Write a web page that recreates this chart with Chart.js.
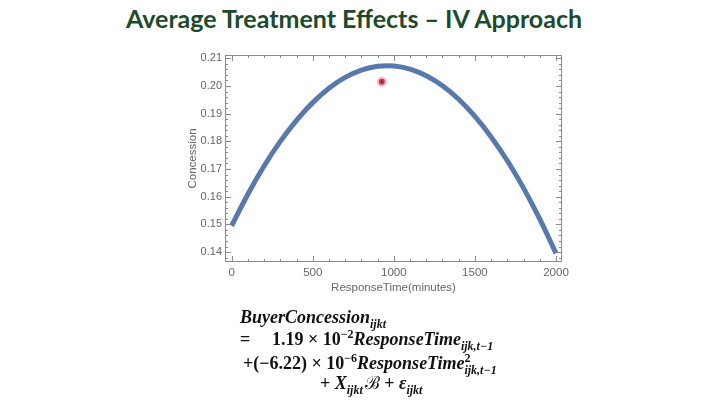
<!DOCTYPE html>
<html>
<head>
<meta charset="utf-8">
<script src="https://cdn.jsdelivr.net/npm/chart.js@4.4.1/dist/chart.umd.min.js"></script>
<style>
  html, body { margin: 0; padding: 0; background: #fff; }
  #wrap { position: relative; width: 720px; height: 404px; overflow: hidden; }
  #grafico { position: absolute; left: 0; top: 0; }
  #titulo {
    position: absolute; left: -6px; width: 720px; top: 3px; text-align: center;
    font-family: Lato, "Open Sans", sans-serif; font-weight: bold; font-size: 25px;
    color: #1d4a2c; white-space: nowrap;
  }
  .eq {
    position: absolute; font-family: "Liberation Serif", serif; font-style: italic;
    font-weight: bold; font-size: 18px; line-height: 1; white-space: nowrap; color: #111;
  }
  .eq .n { font-style: normal; }
  .eq sub, .eq sup { font-size: 12px; line-height: 0; }
  .eq .ss { display: inline-block; vertical-align: -5px; line-height: 1; font-size: 12px; }
  .eq .ss span { display: block; }
  .eq .b { font-family: "DejaVu Serif", serif; font-style: normal; font-weight: normal; margin-left: 2px; }
</style>
</head>
<body>
<div id="wrap">
  <div id="titulo">Average Treatment Effects – IV Approach</div>
  <canvas id="grafico" width="720" height="404"></canvas>
  <div class="eq" style="left:240px; top:308px">BuyerConcession<sub>ijkt</sub></div>
  <div class="eq" style="left:240px; top:330px"><span class="n">=</span></div>
  <div class="eq" style="left:272px; top:330px"><span class="n">1.19 × 10</span><sup class="n">−2</sup>ResponseTime<sub>ijk,t−1</sub></div>
  <div class="eq" style="left:243px; top:352px"><span class="n">+(−6.22) × 10</span><sup class="n">−6</sup>ResponseTime<span class="ss"><span class="n">2</span><span>ijk,t−1</span></span></div>
  <div class="eq" style="left:320px; top:374px"><span class="n">+ </span>X<sub>ijkt</sub><span class="b">ℬ</span><span class="n"> + </span>ε<sub>ijkt</sub></div>
</div>
<script>
// valores
const tiempos = [0, 100, 200, 300, 400, 500, 600, 700, 800, 900, 1000,
  1100, 1200, 1300, 1400, 1500, 1600, 1700, 1800, 1900, 2000];
const concesion = [0.1495, 0.1609, 0.1711, 0.1800, 0.1876, 0.1940, 0.1992, 0.2031,
  0.2057, 0.2071, 0.2072, 0.2061, 0.2037, 0.2001, 0.1952, 0.1890, 0.1816, 0.1730,
  0.1631, 0.1519, 0.1395];
const puntoX = [926];
const puntoY = [0.2015];
const ticksX = [0, 500, 1000, 1500, 2000];
const ticksY = [0.14, 0.15, 0.16, 0.17, 0.18, 0.19, 0.20, 0.21];

const GRIS = "#666";

// marco y ticks hacia adentro (estilo Mathematica)
const marco = {
  id: "marco",
  afterDatasetsDraw(chart) {
    const { ctx, chartArea: a, scales: { x, y } } = chart;
    ctx.save();
    ctx.strokeStyle = "#8a8a8a";
    ctx.lineWidth = 1;
    ctx.strokeRect(a.left + 0.5, a.top + 0.5, a.right - a.left - 1, a.bottom - a.top - 1);
    ctx.beginPath();
    for (let v = 0; v <= 2000; v += 100) {
      const px = Math.round(x.getPixelForValue(v)) + 0.5;
      const len = v % 500 === 0 ? 6 : 3;
      ctx.moveTo(px, a.bottom); ctx.lineTo(px, a.bottom - len);
      ctx.moveTo(px, a.top); ctx.lineTo(px, a.top + len);
    }
    for (let i = 0; i <= 37; i++) {
      const v = 0.136 + i * 0.002;
      if (v < y.min || v > y.max) continue;
      const py = Math.round(y.getPixelForValue(v)) + 0.5;
      const len = i % 5 === 2 ? 6 : 3;
      ctx.moveTo(a.left, py); ctx.lineTo(a.left + len, py);
      ctx.moveTo(a.right, py); ctx.lineTo(a.right - len, py);
    }
    ctx.stroke();
    ctx.restore();
  }
};

new Chart(document.getElementById("grafico"), {
  type: "line",
  data: {
    datasets: [{
      label: "Concession",
      data: tiempos.map((t, i) => ({ x: t, y: concesion[i] })),
      borderColor: "#5879ac",
      borderWidth: 5,
      borderCapStyle: "butt",
      pointRadius: 0,
      tension: 0.4,
      fill: false
    }, {
      type: "scatter",
      label: "punto",
      data: puntoX.map((t, i) => ({ x: t, y: puntoY[i] })),
      backgroundColor: "#a0102a",
      borderColor: "rgba(240,110,130,0.45)",
      borderWidth: 4,
      pointRadius: 3
    }]
  },
  options: {
    responsive: false,
    animation: false,
    layout: { padding: { left: 186, right: 158, top: 55, bottom: 107 } },
    plugins: { legend: { display: false }, tooltip: { enabled: false } },
    scales: {
      x: {
        type: "linear", min: -41, max: 2037,
        afterBuildTicks: s => { s.ticks = ticksX.map(v => ({ value: v })); },
        afterFit: s => { s.height = 35; },
        grid: { display: false, drawTicks: false },
        border: { display: false },
        ticks: { color: GRIS, padding: 4, font: { family: "Liberation Sans", size: 11.5 }, maxRotation: 0,
          callback: v => String(v) },
        title: { display: true, text: "ResponseTime(minutes)", color: GRIS, padding: 2,
          font: { family: "Liberation Sans", size: 11.5 } }
      },
      y: {
        type: "linear", min: 0.1364, max: 0.2112,
        afterBuildTicks: s => { s.ticks = ticksY.map(v => ({ value: v })); },
        afterFit: s => { s.width = 39; },
        grid: { display: false, drawTicks: false },
        border: { display: false },
        ticks: { color: GRIS, padding: 3, font: { family: "Liberation Sans", size: 11 },
          callback: v => v.toFixed(2) },
        title: { display: true, text: "Concession", color: GRIS, padding: 0,
          font: { family: "Liberation Sans", size: 11.5 } }
      }
    }
  },
  plugins: [marco]
});
</script>
</body>
</html>
